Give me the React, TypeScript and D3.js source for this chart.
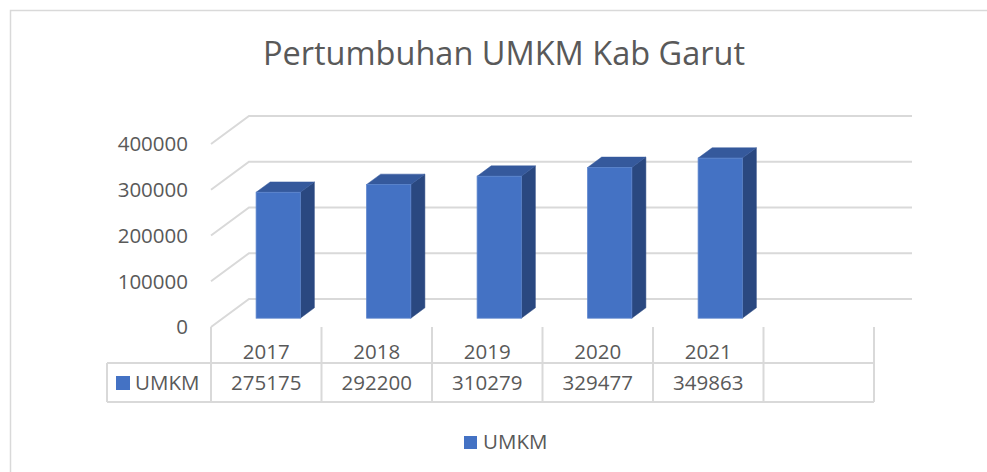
import React from "react";
import * as d3 from "d3";

const title = "Pertumbuhan UMKM Kab Garut";
const seriesName = "UMKM";
const categories = ["2017", "2018", "2019", "2020", "2021", ""];
const values: (number | null)[] = [275175, 292200, 310279, 329477, 349863, null];
const yTicks = [0, 100000, 200000, 300000, 400000];

const W = 987;
const H = 472;
const FONT = "'Open Sans', 'Segoe UI', sans-serif";
const TXT = "#595959";
const GRID = "#d9d9d9";

export default function App() {
  const floorY = 327; // front floor y
  const DX = 38;
  const DY = 28;
  const x = d3.scaleBand<string>().domain(categories.map((c, i) => i + ":" + c)).range([211, 874]).paddingInner(0).paddingOuter(0);
  const h = d3.scaleLinear().domain([0, 400000]).range([0, 183]);
  const bw = x.bandwidth() * 0.4;
  const t0 = 0.315;
  const t1 = 0.685;
  const keys = categories.map((c, i) => i + ":" + c);
  const edges = keys.map((k) => x(k)!).concat([x(keys[keys.length - 1])! + x.bandwidth()]);

  return (
    <svg width={W} height={H} style={{ position: "absolute", left: 0, top: 0, display: "block" }} fontFamily={FONT}>
      <rect x={0} y={0} width={W} height={H} fill="#fff" />
      <rect x={10.5} y={10.5} width={W + 10} height={H + 10} fill="none" stroke={GRID} strokeWidth={1.5} />
      <text x={504} y={65} textAnchor="middle" fontSize={32.5} fill={TXT}>{title}</text>

      {/* gridlines */}
      {yTicks.map((v) => {
        const hy = h(v);
        return (
          <polyline key={v}
            points={`211,${floorY - hy} ${211 + DX},${floorY - DY - hy} ${874 + DX},${floorY - DY - hy}`}
            fill="none" stroke={GRID} strokeWidth={2} />
        );
      })}
      {yTicks.map((v) => (
        <text key={"l" + v} x={188} y={floorY - h(v)} dy="0.36em" textAnchor="end" fontSize={20.5} fill={TXT}>{v}</text>
      ))}

      {/* bars */}
      {values.map((v, i) => {
        if (v == null) return null;
        const cx = x(keys[i])! + x.bandwidth() / 2;
        const ox = DX * t0, oy = DY * t0;
        const dx = DX * (t1 - t0), dy = DY * (t1 - t0);
        const xl = cx - bw / 2 + ox, xr = cx + bw / 2 + ox;
        const yb = floorY - oy;
        const yt = yb - h(v);
        return (
          <g key={"b" + i}>
            <polygon points={`${xr},${yb} ${xr},${yt} ${xr + dx},${yt - dy} ${xr + dx},${yb - dy}`} fill="#2A4880" stroke="#2A4880" strokeWidth={0.5} />
            <polygon points={`${xl},${yt} ${xr},${yt} ${xr + dx},${yt - dy} ${xl + dx},${yt - dy}`} fill="#35599C" stroke="#35599C" strokeWidth={0.5} />
            <rect x={xl} y={yt} width={xr - xl} height={yb - yt} fill="#4472C4" stroke="#5B84CC" strokeWidth={0.8} />
          </g>
        );
      })}

      {/* data table */}
      {edges.map((ex, i) => (
        <line key={"v" + i} x1={ex} x2={ex} y1={floorY} y2={402} stroke={GRID} strokeWidth={2} />
      ))}
      <line x1={107} x2={874} y1={363} y2={363} stroke={GRID} strokeWidth={2} />
      <line x1={107} x2={874} y1={402} y2={402} stroke={GRID} strokeWidth={2} />
      <line x1={107} x2={107} y1={363} y2={402} stroke={GRID} strokeWidth={2} />
      {categories.map((c, i) => (
        <text key={"c" + i} x={x(keys[i])! + x.bandwidth() / 2} y={352} dy="0.36em" textAnchor="middle" fontSize={20.5} fill={TXT}>{c}</text>
      ))}
      {values.map((v, i) => v == null ? null : (
        <text key={"d" + i} x={x(keys[i])! + x.bandwidth() / 2} y={382.5} dy="0.36em" textAnchor="middle" fontSize={20.5} fill={TXT}>{v}</text>
      ))}
      <rect x={116} y={376} width={14} height={14} fill="#4472C4" />
      <text x={135} y={382.5} dy="0.36em" fontSize={20.5} fill={TXT}>{seriesName}</text>

      {/* legend */}
      <rect x={464} y={436} width={13} height={13} fill="#4472C4" />
      <text x={483} y={442} dy="0.36em" fontSize={20.5} fill={TXT}>{seriesName}</text>
    </svg>
  );
}
